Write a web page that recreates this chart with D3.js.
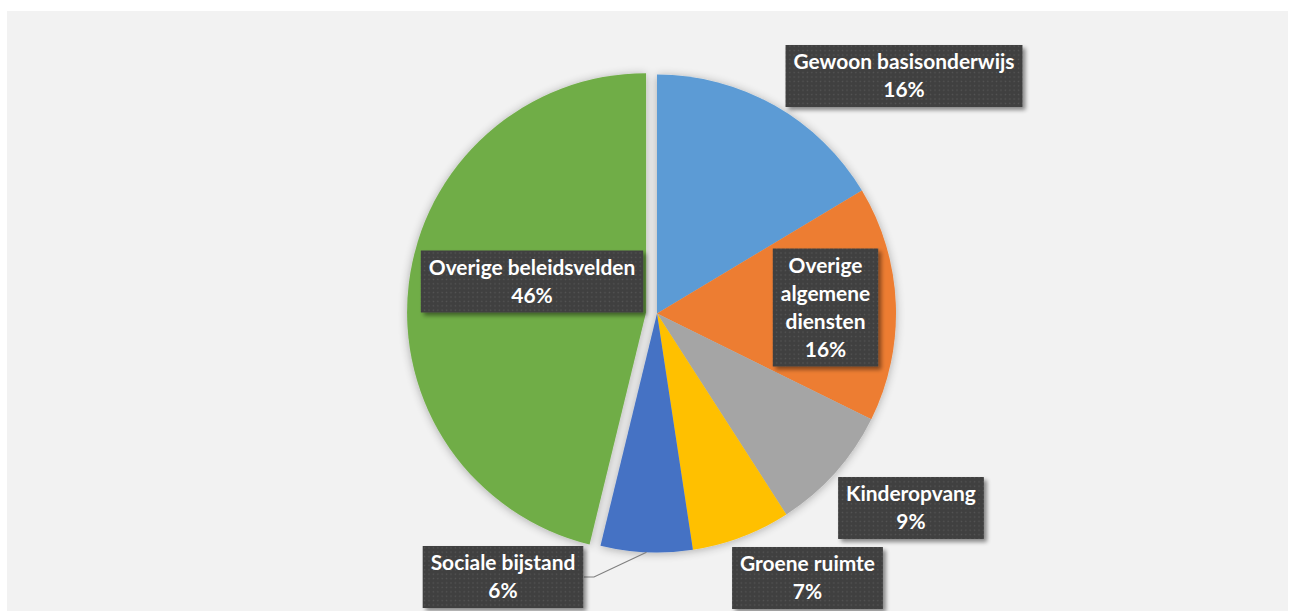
<!DOCTYPE html>
<html>
<head>
<meta charset="utf-8">
<script src="https://cdn.jsdelivr.net/npm/d3@7"></script>
<style>
  html, body { margin: 0; padding: 0; background: #ffffff; }
  svg { display: block; }
</style>
</head>
<body>
<svg id="chart" width="1294" height="611"></svg>
<script>
// ---- data ----
const categories = ["Gewoon basisonderwijs", "Overige algemene diensten", "Kinderopvang", "Groene ruimte", "Sociale bijstand", "Overige beleidsvelden"];
const values = [16.4, 15.9, 8.6, 6.7, 6.2, 46.2];
const percentLabels = ["16%", "16%", "9%", "7%", "6%", "46%"];
const labelLines = [["Gewoon basisonderwijs"], ["Overige", "algemene", "diensten"], ["Kinderopvang"], ["Groene ruimte"], ["Sociale bijstand"], ["Overige beleidsvelden"]];
const colors = ["#5b9bd5", "#ed7d31", "#a5a5a5", "#ffc000", "#4472c4", "#70ad47"];
const explodedIndex = 5;

// ---- layout ----
const W = 1294, H = 611;
const cx = 657, cy = 313.5, R = 239, explode = 11;
// label box centers (layout)
const labelPos = [[904, 76], [825.5, 307.5], [911, 508], [807.5, 578], [503, 577], [532, 281.5]];
const lineH = 28;

const svg = d3.select("#chart");
const defs = svg.append("defs");

const shadow = defs.append("filter").attr("id", "pieShadow")
  .attr("x", "-20%").attr("y", "-20%").attr("width", "140%").attr("height", "140%");
shadow.append("feGaussianBlur").attr("in", "SourceAlpha").attr("stdDeviation", 5).attr("result", "b");
shadow.append("feOffset").attr("in", "b").attr("dx", 0).attr("dy", 1).attr("result", "o");
shadow.append("feComponentTransfer").attr("in", "o").attr("result", "s")
  .append("feFuncA").attr("type", "linear").attr("slope", 0.3);
const m1 = shadow.append("feMerge");
m1.append("feMergeNode").attr("in", "s");
m1.append("feMergeNode").attr("in", "SourceGraphic");

const boxShadow = defs.append("filter").attr("id", "boxShadow")
  .attr("x", "-20%").attr("y", "-30%").attr("width", "140%").attr("height", "160%");
boxShadow.append("feGaussianBlur").attr("in", "SourceAlpha").attr("stdDeviation", 2).attr("result", "b");
boxShadow.append("feOffset").attr("in", "b").attr("dx", 3).attr("dy", 3).attr("result", "o");
boxShadow.append("feComponentTransfer").attr("in", "o").attr("result", "s")
  .append("feFuncA").attr("type", "linear").attr("slope", 0.45);
const m2 = boxShadow.append("feMerge");
m2.append("feMergeNode").attr("in", "s");
m2.append("feMergeNode").attr("in", "SourceGraphic");

const pat = defs.append("pattern").attr("id", "dots").attr("patternUnits", "userSpaceOnUse")
  .attr("width", 4.4).attr("height", 4.4);
pat.append("rect").attr("width", 4.4).attr("height", 4.4).attr("fill", "#404040");
pat.append("rect").attr("x", 1.5).attr("y", 1.5).attr("width", 1.4).attr("height", 1.4).attr("fill", "#555555");

// background
svg.append("rect").attr("x", 7).attr("y", 11).attr("width", 1281).attr("height", H - 11).attr("fill", "#f2f2f2");

// pie
const pie = d3.pie().sort(null).value(d => d)(values);
const arc = d3.arc().innerRadius(0).outerRadius(R);
const pieG = svg.append("g").attr("transform", `translate(${cx},${cy})`).attr("filter", "url(#pieShadow)");
function offsetOf(d, i) {
  if (i !== explodedIndex) return [0, 0];
  const a = (d.startAngle + d.endAngle) / 2;
  return [Math.sin(a) * explode, -Math.cos(a) * explode];
}
pieG.selectAll("path").data(pie).join("path")
  .attr("d", arc)
  .attr("transform", (d, i) => { const o = offsetOf(d, i); return `translate(${o[0]},${o[1]})`; })
  .attr("fill", (d, i) => colors[i]);

// leader line for Sociale bijstand (index 4)
{
  const i = 4, d = pie[i];
  const a = (d.startAngle + d.endAngle) / 2;
  const ex = cx + Math.sin(a) * R, ey = cy - Math.cos(a) * R;
  const lines = labelLines[i].length + 1;
  const bh = lines * lineH + 6;
  const bx = labelPos[i][0], by = labelPos[i][1];
  svg.append("polyline")
    .attr("points", `${ex},${ey} ${bx + 91},${by} ${bx + 81},${by}`)
    .attr("fill", "none").attr("stroke", "#7f7f7f").attr("stroke-width", 1.2);
}

// labels
const fontFamily = "Lato, 'Open Sans', 'DejaVu Sans', sans-serif";
// fit font size so the widest reference label has its observed width
const probe = svg.append("text").attr("font-family", fontFamily).attr("font-weight", "bold")
  .attr("font-size", 20).text(categories[0]);
const probeW = probe.node().getComputedTextLength();
probe.remove();
const fontSize = 20 * 221 / probeW;

const labG = svg.append("g");
pie.forEach((d, i) => {
  const lines = labelLines[i].concat([percentLabels[i]]);
  const g = labG.append("g");
  const t = g.append("text").attr("font-family", fontFamily).attr("font-weight", "bold")
    .attr("font-size", fontSize).attr("fill", "#ffffff").attr("text-anchor", "middle");
  const [lx, ly] = labelPos[i];
  const bh = lines.length * lineH + 6;
  const top = ly - bh / 2;
  lines.forEach((s, k) => {
    t.append("tspan").attr("x", lx).attr("y", top + 24 + k * lineH).text(s);
  });
  let maxW = 0;
  t.selectAll("tspan").each(function () { maxW = Math.max(maxW, this.getComputedTextLength()); });
  const bw = maxW + 16;
  g.insert("rect", "text").attr("x", lx - bw / 2).attr("y", top).attr("width", bw).attr("height", bh)
    .attr("fill", "url(#dots)").attr("filter", "url(#boxShadow)");
});
</script>
</body>
</html>
